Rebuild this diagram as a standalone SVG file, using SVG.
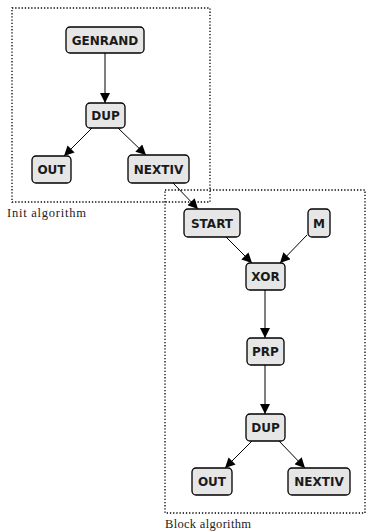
<svg xmlns="http://www.w3.org/2000/svg" width="368" height="532" viewBox="0 0 368 532">
<style>
.frame{fill:none;stroke:#000;stroke-width:1.3;stroke-dasharray:1.3 1.9}
.node rect{fill:#e6e6e6;stroke:#000;stroke-width:1.3}
.node text{font-family:"DejaVu Sans","Liberation Sans",sans-serif;font-weight:bold;font-size:12px;text-anchor:middle;fill:#1a1a1a}
.lbl{font-family:"Liberation Serif","Times New Roman",serif;font-size:12.5px;fill:#222}
.edge{stroke:#000;stroke-width:1;fill:none;marker-end:url(#ah)}
</style>
<defs>
<marker id="ah" viewBox="0 0 10 10" refX="10" refY="5" markerWidth="10" markerHeight="10" markerUnits="userSpaceOnUse" orient="auto">
<path d="M0,0 L10,5 L0,10 z" fill="#000"/>
</marker>
</defs>
<g id="frames">
<rect class="frame" x="12" y="8" width="198" height="194"/>
<text class="lbl" x="7" y="217" textLength="79">Init algorithm</text>
<rect class="frame" x="165" y="190" width="200" height="323"/>
<text class="lbl" x="165" y="528" textLength="86">Block algorithm</text>
</g>
<g id="connectors">
<line class="edge" x1="105" y1="53" x2="105" y2="103"/>
<line class="edge" x1="92" y1="128" x2="64" y2="156"/>
<line class="edge" x1="118" y1="128" x2="146" y2="155"/>
<line class="edge" x1="173" y1="183" x2="198" y2="209"/>
<line class="edge" x1="226" y1="237" x2="252" y2="263"/>
<line class="edge" x1="307" y1="235" x2="280" y2="263"/>
<line class="edge" x1="265" y1="290" x2="265" y2="338"/>
<line class="edge" x1="265" y1="365" x2="265" y2="414"/>
<line class="edge" x1="252" y1="441" x2="225" y2="468"/>
<line class="edge" x1="279" y1="441" x2="305" y2="468"/>
</g>
<g id="n-genrand" class="node"><rect x="66" y="27" width="78" height="26" rx="4"/><text x="105" y="44.5">GENRAND</text></g>
<g id="n-dup1" class="node"><rect x="86" y="103" width="39" height="25" rx="4"/><text x="105.5" y="120">DUP</text></g>
<g id="n-out1" class="node"><rect x="32" y="156" width="39" height="27" rx="4"/><text x="51.5" y="174">OUT</text></g>
<g id="n-nextiv1" class="node"><rect x="128" y="155" width="61" height="28" rx="4"/><text x="158.5" y="173.5">NEXTIV</text></g>
<g id="n-start" class="node"><rect x="184" y="209" width="56" height="28" rx="4"/><text x="212" y="227.5">START</text></g>
<g id="n-m" class="node"><rect x="308" y="209" width="22" height="28" rx="4"/><text x="319" y="227.5">M</text></g>
<g id="n-xor" class="node"><rect x="246" y="263" width="39" height="27" rx="4"/><text x="265.5" y="281">XOR</text></g>
<g id="n-prp" class="node"><rect x="247" y="338" width="37" height="27" rx="4"/><text x="265.5" y="356">PRP</text></g>
<g id="n-dup2" class="node"><rect x="246" y="414" width="39" height="27" rx="4"/><text x="265.5" y="432">DUP</text></g>
<g id="n-out2" class="node"><rect x="192" y="468" width="40" height="27" rx="4"/><text x="212" y="486">OUT</text></g>
<g id="n-nextiv2" class="node"><rect x="288" y="468" width="62" height="27" rx="4"/><text x="319" y="486">NEXTIV</text></g>
</svg>
